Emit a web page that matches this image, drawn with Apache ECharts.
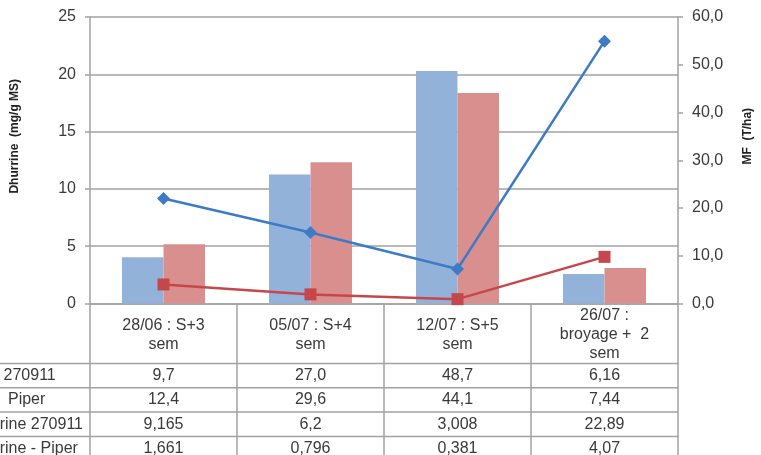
<!DOCTYPE html>
<html>
<head>
<meta charset="utf-8">
<script src="https://cdn.jsdelivr.net/npm/echarts@6/dist/echarts.min.js"></script>
<style>
  html, body { margin: 0; padding: 0; background: #ffffff; }
  #chart { width: 761px; height: 455px; }
</style>
</head>
<body>
<div id="chart"></div>
<script>
// Sampling dates (column headers of the data table)
const categories = ['28/06 : S+3\nsem', '05/07 : S+4\nsem', '12/07 : S+5\nsem', '26/07 :\nbroyage +  2\nsem'];
// Row names of the data table
const seriesNames = ['MF 270911', 'MF  Piper', 'Dhurrine 270911', 'Dhurrine - Piper'];
// Fresh matter (T/ha), right axis – bars
const mf270911 = ['9,7', '27,0', '48,7', '6,16'];
const mfPiper = ['12,4', '29,6', '44,1', '7,44'];
// Dhurrin content (mg/g MS), left axis – lines
const dhurrine270911 = ['9,165', '6,2', '3,008', '22,89'];
const dhurrinePiper = ['1,661', '0,796', '0,381', '4,07'];
// Axis ticks
const leftTicks = [0, 5, 10, 15, 20, 25];
const rightTicks = [0, 10, 20, 30, 40, 50, 60];

const num = s => parseFloat(s.replace(',', '.'));
const FONT = "'Liberation Sans', Arial, sans-serif";
const TEXT = '#3a3a3a';
const GRID = '#a2a2a2';
// left edge of each row name in the table (the names start left of the page edge)
const ROW_LABEL_X = [-24, -24, -35, -35];

const chart = echarts.init(document.getElementById('chart'), null, { renderer: 'canvas' });

const axisBase = {
  type: 'value',
  axisLine: { show: true, lineStyle: { color: GRID, width: 1.5 } },
  axisTick: { show: true, inside: false, length: 5, lineStyle: { color: GRID, width: 1.5 } },
  axisLabel: { color: TEXT, fontSize: 16, fontFamily: FONT, margin: 14 }
};

chart.setOption({
  animation: false,
  backgroundColor: '#ffffff',
  grid: { left: 90, right: 83, top: 17, bottom: 151.5 },
  xAxis: {
    type: 'category',
    data: categories,
    axisLine: { show: true, lineStyle: { color: GRID, width: 1.5 } },
    axisTick: { show: false },
    axisLabel: { show: false },
    splitLine: { show: false }
  },
  yAxis: [
    Object.assign({}, axisBase, {
      position: 'left',
      min: leftTicks[0], max: leftTicks[leftTicks.length - 1], interval: leftTicks[1] - leftTicks[0],
      splitLine: { show: true, lineStyle: { color: GRID, width: 1.5 } }
    }),
    Object.assign({}, axisBase, {
      position: 'right',
      min: rightTicks[0], max: rightTicks[rightTicks.length - 1], interval: rightTicks[1] - rightTicks[0],
      splitLine: { show: false },
      axisLabel: Object.assign({}, axisBase.axisLabel, {
        formatter: v => v.toFixed(1).replace('.', ',')
      })
    })
  ],
  series: [
    {
      name: seriesNames[0], type: 'bar', yAxisIndex: 1,
      data: mf270911.map(num),
      itemStyle: { color: '#93b2da' },
      barGap: '0%', barCategoryGap: '43.5%', z: 2
    },
    {
      name: seriesNames[1], type: 'bar', yAxisIndex: 1,
      data: mfPiper.map(num),
      itemStyle: { color: '#da8f8f' },
      barGap: '0%', barCategoryGap: '43.5%', z: 2
    },
    {
      name: seriesNames[2], type: 'line', yAxisIndex: 0,
      data: dhurrine270911.map(num),
      symbol: 'diamond', symbolSize: 13,
      lineStyle: { color: '#3d7bc6', width: 2.5 },
      itemStyle: { color: '#3d7bc6' }, z: 5
    },
    {
      name: seriesNames[3], type: 'line', yAxisIndex: 0,
      data: dhurrinePiper.map(num),
      symbol: 'rect', symbolSize: 12,
      lineStyle: { color: '#c6474a', width: 2.5 },
      itemStyle: { color: '#c6474a' }, z: 5
    }
  ]
});

// Data table drawn under the plot, aligned on the category axis
function drawTable() {
  const xs = categories.map((c, i) => chart.convertToPixel({ xAxisIndex: 0 }, i));
  const band = xs.length > 1 ? xs[1] - xs[0] : 100;
  const yAxis0 = chart.convertToPixel({ yAxisIndex: 0 }, leftTicks[0]);
  const yTop = chart.convertToPixel({ yAxisIndex: 0 }, leftTicks[leftTicks.length - 1]);
  const xLeft = xs[0] - band / 2;
  const xRight = xs[xs.length - 1] + band / 2;
  const headerH = 60;
  const rowH = 24.3;
  const rows = [mf270911, mfPiper, dhurrine270911, dhurrinePiper];
  const els = [];
  const line = (x1, y1, x2, y2) => ({
    type: 'line', silent: true,
    shape: { x1, y1, x2, y2 },
    style: { stroke: GRID, lineWidth: 1.5 }
  });
  // vertical separators
  for (let i = 0; i <= xs.length; i++) {
    const x = xLeft + i * band;
    els.push(line(x, yAxis0, x, 470));
  }
  // horizontal separators
  for (let r = 0; r < rows.length; r++) {
    const y = yAxis0 + headerH + r * rowH;
    els.push(line(0, y, xRight, y));
  }
  // header cells
  xs.forEach((x, i) => {
    els.push({
      type: 'text', silent: true,
      style: {
        text: categories[i], x: x, y: yAxis0 + headerH / 2 + 1.5,
        textAlign: 'center', textVerticalAlign: 'middle',
        font: '16px ' + FONT, fill: TEXT, lineHeight: 19
      }
    });
  });
  // value rows
  rows.forEach((row, r) => {
    const yc = yAxis0 + headerH + r * rowH + rowH / 2;
    els.push({
      type: 'text', silent: true,
      style: {
        text: seriesNames[r], x: ROW_LABEL_X[r], y: yc,
        textAlign: 'left', textVerticalAlign: 'middle',
        font: '16px ' + FONT, fill: TEXT
      }
    });
    row.forEach((v, i) => {
      els.push({
        type: 'text', silent: true,
        style: {
          text: v, x: xs[i], y: yc,
          textAlign: 'center', textVerticalAlign: 'middle',
          font: '16px ' + FONT, fill: TEXT
        }
      });
    });
  });
  // axis titles
  const yMid = (yTop + yAxis0) / 2;
  els.push({
    type: 'text', silent: true, x: 15, y: yMid - 24, rotation: Math.PI / 2,
    style: {
      text: 'Dhurrine  (mg/g MS)', x: 0, y: 0,
      textAlign: 'center', textVerticalAlign: 'middle',
      font: 'bold 12px ' + FONT, fill: '#222'
    }
  });
  els.push({
    type: 'text', silent: true, x: 748, y: yMid - 24, rotation: Math.PI / 2,
    style: {
      text: 'MF  (T/ha)', x: 0, y: 0,
      textAlign: 'center', textVerticalAlign: 'middle',
      font: 'bold 12px ' + FONT, fill: '#222'
    }
  });
  chart.setOption({ graphic: { elements: els } });
}
drawTable();
</script>
</body>
</html>
